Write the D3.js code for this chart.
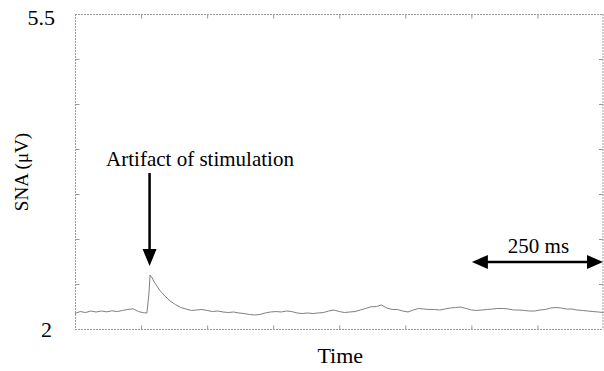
<!DOCTYPE html>
<html><head><meta charset="utf-8">
<script src="https://cdn.jsdelivr.net/npm/d3@7"></script>
<style>html,body{margin:0;padding:0;background:#fff;}svg{display:block;}</style>
</head><body>
<script>
const timeMs = [0,10,20,30,40,50,60,70,80,90,100,110,120,130,136,140,142,146,150,160,170,180,190,200,210,220,230,240,250,260,270,280,290,300,310,320,330,340,350,360,370,380,390,400,410,420,430,440,450,460,470,480,490,500,510,520,530,540,550,560,570,580,590,600,610,620,630,640,650,660,670,680,690,700,710,720,730,740,750,760,770,780,790,800,810,820,830,840,850,860,870,880,890,900,910,920,930,940,950,960,970,980,990,1000];
const snaValues = [2.172,2.194,2.183,2.200,2.189,2.200,2.191,2.202,2.194,2.206,2.217,2.224,2.194,2.180,2.178,2.400,2.600,2.567,2.522,2.433,2.367,2.311,2.272,2.239,2.222,2.206,2.211,2.217,2.206,2.194,2.200,2.189,2.183,2.189,2.178,2.172,2.161,2.156,2.161,2.178,2.189,2.194,2.189,2.200,2.194,2.178,2.172,2.178,2.172,2.178,2.183,2.200,2.211,2.194,2.183,2.189,2.194,2.211,2.228,2.247,2.250,2.267,2.233,2.217,2.217,2.200,2.189,2.211,2.228,2.222,2.217,2.217,2.211,2.222,2.233,2.239,2.244,2.228,2.211,2.206,2.211,2.217,2.222,2.228,2.228,2.222,2.211,2.211,2.206,2.200,2.200,2.211,2.217,2.233,2.239,2.233,2.222,2.222,2.211,2.206,2.200,2.194,2.189,2.183];
const xTicks = [125,250,375,500,625,750,875];
const yTicks = [2.5,3,3.5,4,4.5,5];
const yTickLabels = ["5.5","2"];
const yDomain = [2,5.5];
const xDomain = [0,1000];
const stimTime = 143;      // artifact arrow position (ms)
const scaleBar = [750,1000]; // 250 ms scale bar

const W=604,H=371;
const m={left:75,right:0.5,top:14,bottom:42};
const svg=d3.select("body").append("svg").attr("width",W).attr("height",H);
const x=d3.scaleLinear().domain(xDomain).range([m.left,W-m.right]);
const y=d3.scaleLinear().domain(yDomain).range([H-m.bottom,m.top]);
const serif="Liberation Serif, Times New Roman, serif";

// frame
const fr=svg.append("g").attr("stroke","#999").attr("stroke-width",1).attr("stroke-dasharray","2,1").attr("fill","none");
fr.append("line").attr("x1",x(0)).attr("x2",x(1000)).attr("y1",y(5.5)+0.5).attr("y2",y(5.5)+0.5);
fr.append("line").attr("x1",x(0)).attr("x2",x(1000)).attr("y1",y(2)+0.5).attr("y2",y(2)+0.5);
fr.append("line").attr("x1",x(0)+0.5).attr("x2",x(0)+0.5).attr("y1",y(5.5)).attr("y2",y(2));
fr.append("line").attr("x1",x(1000)-0.5).attr("x2",x(1000)-0.5).attr("y1",y(5.5)).attr("y2",y(2));

// ticks via axes
const tk=4;
svg.append("g").attr("transform",`translate(0,${y(2)+0.5})`).call(d3.axisBottom(x).tickValues(xTicks).tickSize(-tk).tickFormat(""));
svg.append("g").attr("transform",`translate(0,${y(5.5)+0.5})`).call(d3.axisTop(x).tickValues(xTicks).tickSize(-tk).tickFormat(""));
svg.append("g").attr("transform",`translate(${x(0)+0.5},0)`).call(d3.axisLeft(y).tickValues(yTicks).tickSize(-tk).tickFormat(""));
svg.append("g").attr("transform",`translate(${x(1000)-0.5},0)`).call(d3.axisRight(y).tickValues(yTicks).tickSize(-tk).tickFormat(""));
svg.selectAll(".domain").remove();
svg.selectAll(".tick line").attr("stroke","#999");

// y end labels
svg.append("text").attr("x",55).attr("y",y(5.5)+11).attr("text-anchor","end").attr("font-family",serif).attr("font-size",22).text(yTickLabels[0]);
svg.append("text").attr("x",52).attr("y",y(2)+8).attr("text-anchor","end").attr("font-family",serif).attr("font-size",22).text(yTickLabels[1]);

// axis titles
svg.append("text").attr("x",(x(0)+x(1000))/2+1).attr("y",363).attr("text-anchor","middle").attr("font-family",serif).attr("font-size",22).text("Time");
svg.append("text").attr("transform","translate(28,172) rotate(-90)").attr("text-anchor","middle").attr("font-family",serif).attr("font-size",19).text("SNA (μV)");

// trace
const data=timeMs.map((t,i)=>({t,v:snaValues[i]}));
svg.append("path").datum(data).attr("fill","none").attr("stroke","#808080").attr("stroke-width",1)
  .attr("d",d3.line().x(d=>x(d.t)).y(d=>y(d.v)));

// artifact arrow
const ax=x(stimTime)-1;
svg.append("line").attr("x1",ax).attr("x2",ax).attr("y1",173).attr("y2",250).attr("stroke","#000").attr("stroke-width",2.5);
svg.append("path").attr("d",`M${ax-7},249 L${ax+7},249 L${ax},266 Z`).attr("fill","#000");
svg.append("text").attr("x",200).attr("y",166).attr("text-anchor","middle").attr("font-family",serif).attr("font-size",21).text("Artifact of stimulation");

// scale bar
const sx1=x(scaleBar[0])+0.5, sx2=x(scaleBar[1])-0.5, sy=262;
svg.append("line").attr("x1",sx1+12).attr("x2",sx2-12).attr("y1",sy).attr("y2",sy).attr("stroke","#000").attr("stroke-width",2.5);
svg.append("path").attr("d",`M${sx1},${sy} L${sx1+16},${sy-7} L${sx1+16},${sy+7} Z`).attr("fill","#000");
svg.append("path").attr("d",`M${sx2},${sy} L${sx2-16},${sy-7} L${sx2-16},${sy+7} Z`).attr("fill","#000");
svg.append("text").attr("x",(sx1+sx2)/2+1).attr("y",253).attr("text-anchor","middle").attr("font-family",serif).attr("font-size",21).text("250 ms");
</script>
</body></html>
